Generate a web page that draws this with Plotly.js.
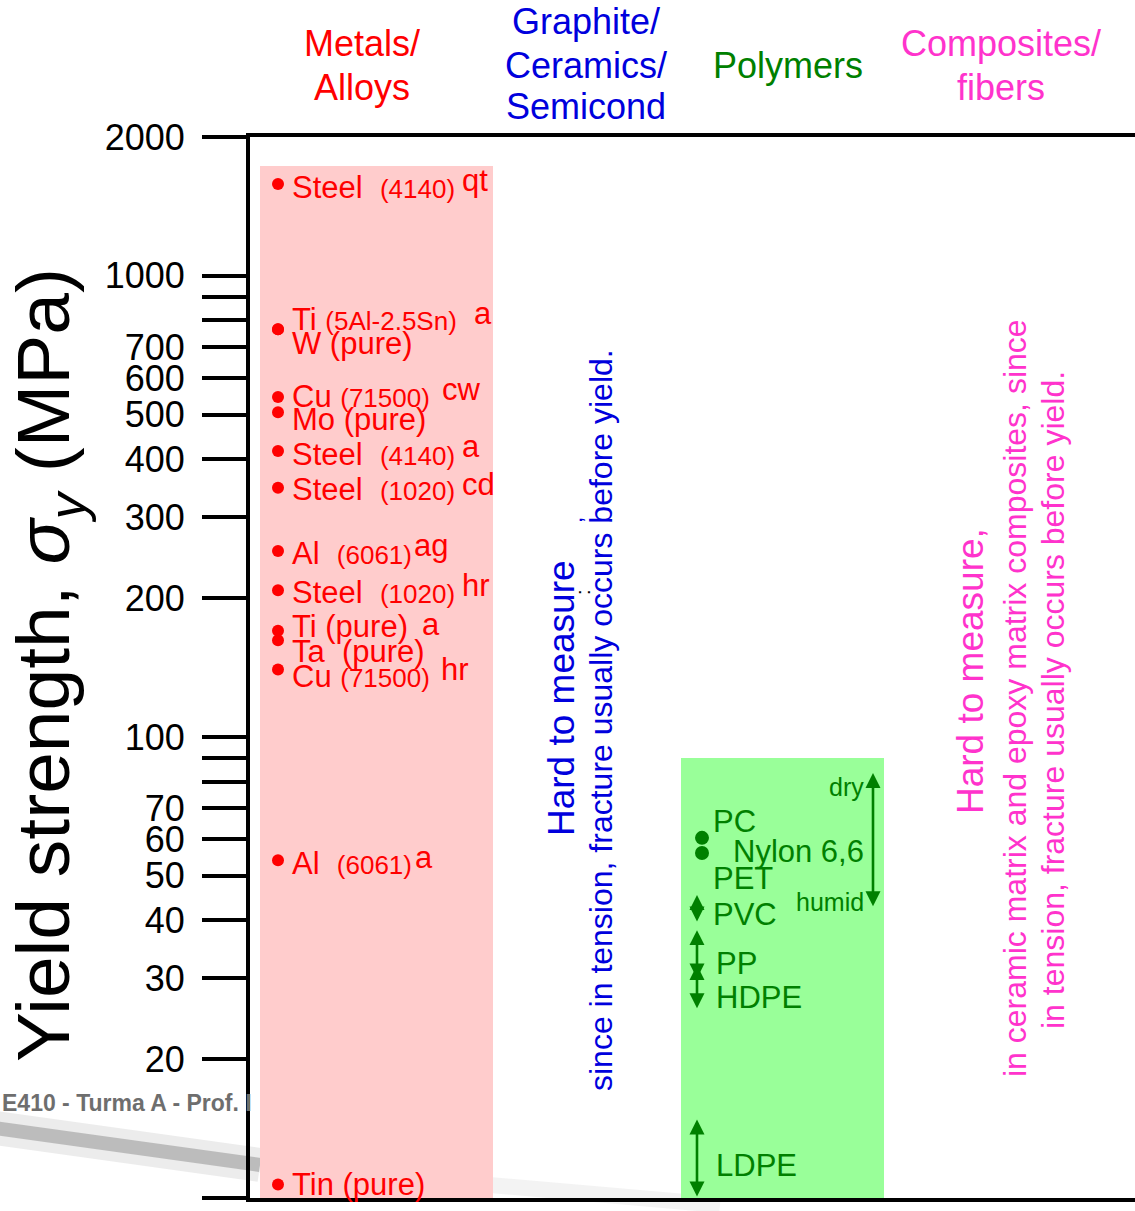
<!DOCTYPE html>
<html><head><meta charset="utf-8">
<script src="https://cdn.plot.ly/plotly-3.0.1.min.js"></script>
<style>html,body{margin:0;padding:0;background:#fff;overflow:hidden}</style>
</head><body><div id="chart" style="width:1135px;height:1211px"></div>
<script>
// ---------------- DATA ----------------
const yTickVals = [10,20,30,40,50,60,70,80,90,100,200,300,400,500,600,700,800,900,1000,2000];
const yTickText = ['10','20','30','40','50','60','70','','','100','200','300','400','500','600','700','','','1000','2000'];

const metalNames  = ['Steel','Ti','W (pure)','Cu','Mo (pure)','Steel','Steel','Al','Steel','Ti (pure)','Ta\u00a0\u00a0(pure)','Cu','Al','Tin (pure)'];
const metalGrades = ['(4140)','(5Al-2.5Sn)','','(71500)','','(4140)','(1020)','(6061)','(1020)','','','(71500)','(6061)',''];
const metalStates = ['qt','a','','cw','','a','cd','ag','hr','a','','hr','a',''];
const metalYield  = [1581, 766, 766, 546, 506, 417, 347, 253, 208, 170, 162, 140, 54, 10.7];
const metalBand   = [10, 1730];

const polyDotNames  = ['PC','PET'];
const polyDotYield  = [60.4, 56];
const polyRangeNames = ['PVC','PP','HDPE','LDPE','Nylon 6,6'];
const polyRangeLow   = [39.5, 29.7, 25.6, 10, 42.6];
const polyRangeHigh  = [45.4, 38.1, 32.0, 14.8, 83.5];
const polymerBand    = [10, 90];

const headerLines = [['Metals/','Alloys'],['Graphite/','Ceramics/','Semicond'],['Polymers'],['Composites/','fibers']];

// ---------------- STYLE / LAYOUT CONFIG ----------------
const W = 1135, H = 1211, L = 250, T = 137, B = 13;
const plotH = H - T - B, plotW = W - L;
const px2paperX = p => (p - L) / plotW;
const px2paperY = p => (H - B - p) / plotH;
const FONT = 'Liberation Sans, Arial, sans-serif';
const RED = '#FF0000', PINK = '#FFCCCC', GREEN = '#008000', LGREEN = '#99FF99', BLUE = '#0000DD', MAG = '#FF33CC';

const metalBandX = [260, 493], metalDotX = 278, metalTextX = 290;
const metalGap        = [2, 1, 0, 1, 0, 2, 2, 2, 2, 0, 0, 1, 2, 0];
const metalLabelShift = [-3, 10, -14, 0, -7, -4, -2, -2, -2, 4, -11, -7, -3, 0];
const metalStateX     = [460, 472, null, 440, null, 460, 460, 412, 460, 420, null, 439, 413, null];
const metalStateShift = [4, 16, 0, 7, 0, 4, 3, 6, 5, 6, 0, 0, 3, 0];

const polyBandX = [681, 884], polyDotX = 702;
const polyRangeX = [697, 697, 697, 697, 873];
const polyRangeLabelX = [711, 714, 714, 714, 731];
const polyRangeLabelShift = [-6, -8, -10, -7, -11];
const polyDotLabelX = [711, 711];
const polyDotLabelShift = [16, -25];

const headerX = [362, 586, 788, 1001];
const headerY = [[44, 87], [22, 65, 107], [66], [44, 87]];
const headerColors = [RED, BLUE, GREEN, MAG];

const lg = Math.log10;
const traces = [];

// bands
traces.push({x:[metalBandX[0],metalBandX[1],metalBandX[1],metalBandX[0],metalBandX[0]],
  y:[metalBand[0],metalBand[0],metalBand[1],metalBand[1],metalBand[0]],
  mode:'lines', fill:'toself', fillcolor:PINK, line:{width:0,color:PINK}, hoverinfo:'skip', showlegend:false});
traces.push({x:[polyBandX[0],polyBandX[1],polyBandX[1],polyBandX[0],polyBandX[0]],
  y:[polymerBand[0],polymerBand[0],polymerBand[1],polymerBand[1],polymerBand[0]],
  mode:'lines', fill:'toself', fillcolor:LGREEN, line:{width:0,color:LGREEN}, hoverinfo:'skip', showlegend:false});

// metal dots
traces.push({x:metalYield.map(()=>metalDotX), y:metalYield, mode:'markers',
  marker:{size:12,color:RED}, showlegend:false, text:metalNames});
// polymer dots
traces.push({x:polyDotYield.map(()=>polyDotX), y:polyDotYield, mode:'markers',
  marker:{size:14,color:GREEN}, showlegend:false, text:polyDotNames});

const ann = [];
// metal labels
metalNames.forEach((n,i)=>{
  const sep = metalGap[i] === 2 ? '\u00a0 ' : ' ';
  const g = metalGrades[i] ? sep + '<span style="font-size:26px">'+metalGrades[i]+'</span>' : '';
  ann.push({x:metalTextX, y:lg(metalYield[i]), xref:'x', yref:'y', xanchor:'left', yanchor:'middle',
    yshift:metalLabelShift[i], text:n+g, showarrow:false, font:{family:FONT,size:31,color:RED}});
  if(metalStates[i]){
    ann.push({x:metalStateX[i], y:lg(metalYield[i]), xref:'x', yref:'y', xanchor:'left', yanchor:'middle',
      yshift:metalStateShift[i], text:metalStates[i], showarrow:false, font:{family:FONT,size:31,color:RED}});
  }
});
// polymer ranges (double arrows) + labels
polyRangeNames.forEach((n,i)=>{
  ann.push({x:polyRangeX[i], y:lg(polyRangeHigh[i]), ax:polyRangeX[i], ay:lg(polyRangeLow[i]),
    xref:'x', yref:'y', axref:'x', ayref:'y', text:'', showarrow:true,
    arrowhead:2, startarrowhead:2, arrowside:'end+start', arrowsize:1.15, startarrowsize:1.15,
    arrowwidth:2.6, arrowcolor:GREEN});
  const mid = (lg(polyRangeHigh[i]) + lg(polyRangeLow[i]))/2;
  ann.push({x:polyRangeLabelX[i], y:mid, xref:'x', yref:'y', xanchor:'left', yanchor:'middle',
    yshift:polyRangeLabelShift[i], text:n, showarrow:false, font:{family:FONT,size:31,color:GREEN}});
});
// dry / humid for Nylon
ann.push({x:866, y:lg(polyRangeHigh[4]), xref:'x', yref:'y', xanchor:'right', yanchor:'middle', yshift:-14,
  text:'dry', showarrow:false, font:{family:FONT,size:25,color:GREEN}});
ann.push({x:866, y:lg(polyRangeLow[4]), xref:'x', yref:'y', xanchor:'right', yanchor:'middle', yshift:6,
  text:'humid', showarrow:false, font:{family:FONT,size:25,color:GREEN}});
polyDotNames.forEach((n,i)=>{
  ann.push({x:polyDotLabelX[i], y:lg(polyDotYield[i]), xref:'x', yref:'y', xanchor:'left', yanchor:'middle',
    yshift:polyDotLabelShift[i], text:n, showarrow:false, font:{family:FONT,size:31,color:GREEN}});
});

// headers (one annotation per line)
headerLines.forEach((lines,i)=>{
  lines.forEach((t,j)=>{
    ann.push({x:px2paperX(headerX[i]), y:px2paperY(headerY[i][j]), xref:'paper', yref:'paper',
      xanchor:'center', yanchor:'middle', text:t, showarrow:false,
      font:{family:FONT,size:36,color:headerColors[i]}});
  });
});

// vertical notes
function vnote(t, cx, cy, size, color){
  ann.push({x:px2paperX(cx), y:px2paperY(cy), xref:'paper', yref:'paper', xanchor:'center', yanchor:'middle',
    text:t, textangle:-90, showarrow:false, font:{family:FONT,size:size,color:color}});
}
vnote('Hard to measure', 562, 698, 37, BLUE);
vnote('since in tension, fracture usually occurs before yield.', 601, 720, 32, BLUE);
vnote(',', 574, 520, 22, BLUE);
vnote(':', 583, 592, 20, '#000');
vnote('Hard to measure,', 970, 671, 37, MAG);
vnote('in ceramic matrix and epoxy matrix composites, since', 1015, 698, 32, MAG);
vnote('in tension, fracture usually occurs before yield.', 1053, 700, 32, MAG);

// y axis title
ann.push({x:px2paperX(48), y:px2paperY(665), xref:'paper', yref:'paper', xanchor:'center', yanchor:'middle',
  text:'Yield strength, <i>σ</i><sub><i>y</i></sub> (MPa)', textangle:-90, showarrow:false,
  font:{family:FONT,size:75,color:'#000'}});

// footer
ann.push({x:px2paperX(0), y:px2paperY(1103), xref:'paper', yref:'paper', xanchor:'left', yanchor:'middle',
  text:'<b>E410 - Turma A - Prof. I</b>', showarrow:false, font:{family:FONT,size:23,color:'#6e6e6e'}});

const shapes = [
  {type:'line', xref:'paper', yref:'paper', x0:px2paperX(-5), y0:px2paperY(1128), x1:px2paperX(260), y1:px2paperY(1165),
   line:{color:'rgba(150,150,150,0.18)', width:34}, layer:'below'},
  {type:'line', xref:'paper', yref:'paper', x0:px2paperX(-5), y0:px2paperY(1128), x1:px2paperX(260), y1:px2paperY(1165),
   line:{color:'rgba(100,100,100,0.35)', width:14}, layer:'below'},
  {type:'line', xref:'paper', yref:'paper', x0:px2paperX(260), y0:px2paperY(1165), x1:px2paperX(720), y1:px2paperY(1205),
   line:{color:'rgba(160,160,160,0.12)', width:16}, layer:'below'}
];

const layout = {
  width:W, height:H,
  margin:{l:L, r:0, t:T, b:B, pad:0},
  paper_bgcolor:'#ffffff', plot_bgcolor:'rgba(0,0,0,0)',
  showlegend:false,
  font:{family:FONT},
  xaxis:{range:[L, W], showline:true, mirror:true, linewidth:4, linecolor:'#000',
    showticklabels:false, ticks:'', showgrid:false, zeroline:false, fixedrange:true},
  yaxis:{type:'log', range:[lg(10), lg(2000)], tickvals:yTickVals, ticktext:yTickText,
    ticks:'outside', ticklen:44, tickwidth:4, tickcolor:'#000',
    showline:true, linewidth:4, linecolor:'#000', showgrid:false, zeroline:false,
    tickfont:{family:FONT,size:36,color:'#000'}, ticklabelstandoff:10, fixedrange:true},
  annotations:ann, shapes:shapes
};

Plotly.newPlot('chart', traces, layout, {displayModeBar:false, staticPlot:true});
</script>
</body></html>
